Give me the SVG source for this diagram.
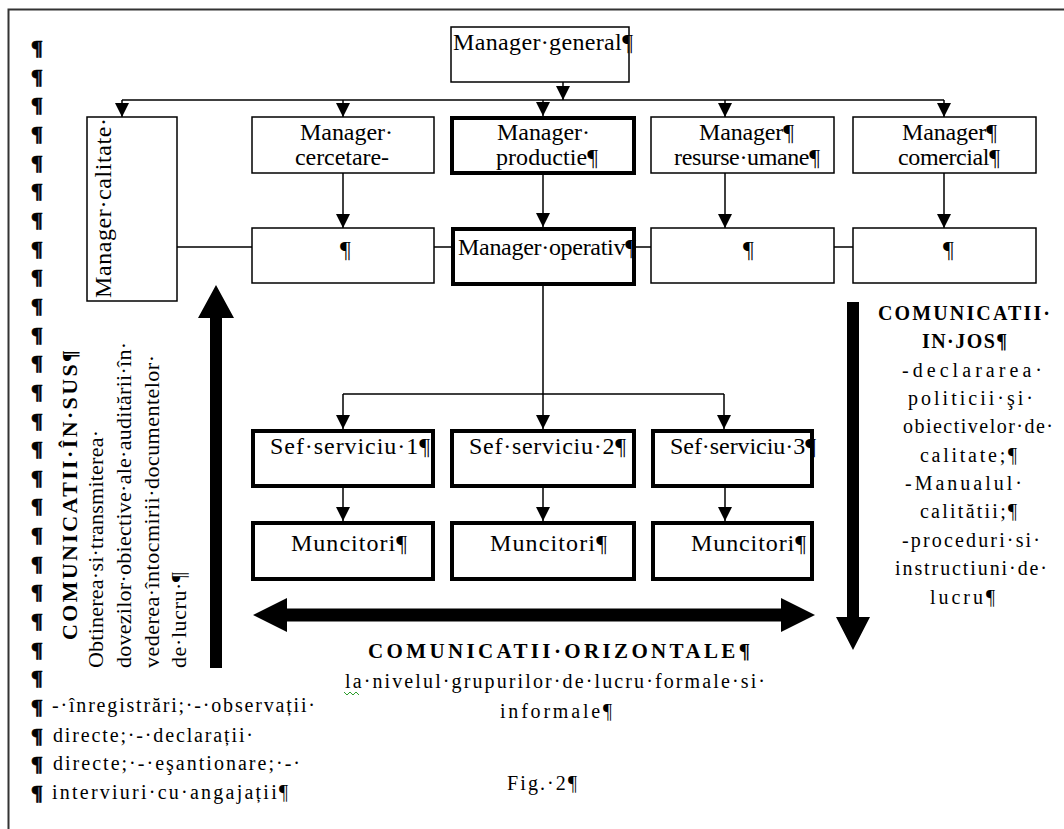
<svg xmlns="http://www.w3.org/2000/svg" width="1064" height="829" viewBox="0 0 1064 829">
<defs>
<style>
.t{font-family:"Liberation Serif","Times New Roman",serif;font-size:24px;fill:#000}
.s{font-family:"Liberation Serif","Times New Roman",serif;font-size:20px;fill:#000}
.v{font-family:"Liberation Serif","Times New Roman",serif;font-size:22px;fill:#000}
.b{font-weight:bold}
.box{fill:#fff;stroke:#000;stroke-width:1.5}
.thick{fill:#fff;stroke:#000;stroke-width:4}
.con{fill:none;stroke:#000;stroke-width:1.5}
.pil{font-family:"Liberation Serif","Times New Roman",serif;font-size:22px;font-weight:bold;fill:#000;stroke:#000;stroke-width:0.7}
.blk{fill:#000;stroke:none}
</style>
<marker id="ah" markerUnits="userSpaceOnUse" markerWidth="14" markerHeight="14" viewBox="0 0 14 14" refX="14" refY="7" orient="auto">
<path d="M0,0 L14,7 L0,14 Z" fill="#000"/>
</marker>
</defs>
<rect x="0" y="0" width="1064" height="829" fill="#fff"/>
<path d="M8.5,829 V9.5 H1064" fill="none" stroke="#333" stroke-width="2"/>

<g id="pilcrows" class="pil">
<text x="31" y="55">¶</text><text x="31" y="83.7">¶</text><text x="31" y="112.3">¶</text><text x="31" y="141">¶</text>
<text x="31" y="169.6">¶</text><text x="31" y="198.3">¶</text><text x="31" y="226.9">¶</text><text x="31" y="255.6">¶</text>
<text x="31" y="284.2">¶</text><text x="31" y="312.9">¶</text><text x="31" y="341.5">¶</text><text x="31" y="370.2">¶</text>
<text x="31" y="398.8">¶</text><text x="31" y="427.5">¶</text><text x="31" y="456.1">¶</text><text x="31" y="484.8">¶</text>
<text x="31" y="513.4">¶</text><text x="31" y="542.1">¶</text><text x="31" y="570.7">¶</text><text x="31" y="599.4">¶</text>
<text x="31" y="628">¶</text><text x="31" y="656.7">¶</text><text x="31" y="685.3">¶</text><text x="31" y="714">¶</text>
<text x="31" y="742.6">¶</text><text x="31" y="771.3">¶</text><text x="31" y="799.9">¶</text>
</g>

<g id="connectors" class="con">
<path d="M563,82 V100" marker-end="url(#ah)"/>
<path d="M122,100 H944"/>
<path d="M122,100 V117" marker-end="url(#ah)"/>
<path d="M343,100 V117" marker-end="url(#ah)"/>
<path d="M543,100 V116" marker-end="url(#ah)"/>
<path d="M725,100 V117" marker-end="url(#ah)"/>
<path d="M944,100 V117" marker-end="url(#ah)"/>
<path d="M343,173 V228" marker-end="url(#ah)"/>
<path d="M543,175 V227" marker-end="url(#ah)"/>
<path d="M725,173 V228" marker-end="url(#ah)"/>
<path d="M944,173 V228" marker-end="url(#ah)"/>
<path d="M177,247 H252 M434,247 H451 M636,247 H651 M834,247 H853"/>
<path d="M543,286 V394 M343,394 H724"/>
<path d="M343,394 V429" marker-end="url(#ah)"/>
<path d="M543,394 V429" marker-end="url(#ah)"/>
<path d="M724,394 V429" marker-end="url(#ah)"/>
<path d="M343,488 V521" marker-end="url(#ah)"/>
<path d="M543,488 V521" marker-end="url(#ah)"/>
<path d="M725,488 V521" marker-end="url(#ah)"/>
</g>

<g id="manager-general">
<rect class="box" x="451" y="27" width="178" height="55"/>
<text class="t" x="453" y="50" textLength="180" lengthAdjust="spacing">Manager·general¶</text>
</g>
<g id="manager-calitate">
<rect class="box" x="87" y="117" width="90" height="184"/>
<text class="t" transform="translate(111,298) rotate(-90)" textLength="180" lengthAdjust="spacing">Manager·calitate·</text>
</g>
<g id="manager-cercetare">
<rect class="box" x="252" y="117" width="182" height="56"/>
<text class="t" x="300" y="140" textLength="93" lengthAdjust="spacing">Manager·</text>
<text class="t" x="295" y="165" textLength="94" lengthAdjust="spacing">cercetare-</text>
</g>
<g id="manager-productie">
<rect class="thick" x="452" y="118" width="182" height="55"/>
<text class="t" x="497" y="140" textLength="93" lengthAdjust="spacing">Manager·</text>
<text class="t" x="496" y="165" textLength="102" lengthAdjust="spacing">productie¶</text>
</g>
<g id="manager-resurse-umane">
<rect class="box" x="651" y="117" width="183" height="56"/>
<text class="t" x="699" y="140" textLength="95" lengthAdjust="spacing">Manager¶</text>
<text class="t" x="674" y="165" textLength="146" lengthAdjust="spacing">resurse·umane¶</text>
</g>
<g id="manager-comercial">
<rect class="box" x="853" y="117" width="183" height="56"/>
<text class="t" x="902" y="140" textLength="95" lengthAdjust="spacing">Manager¶</text>
<text class="t" x="898" y="165" textLength="102" lengthAdjust="spacing">comercial¶</text>
</g>
<g id="sub-cercetare">
<rect class="box" x="252" y="228" width="182" height="55"/>
<text class="t" x="340" y="257">¶</text>
</g>
<g id="manager-operativ">
<rect class="thick" x="453" y="229" width="181" height="55"/>
<text class="t" x="458" y="255" textLength="178" lengthAdjust="spacing">Manager·operativ¶</text>
</g>
<g id="sub-resurse-umane">
<rect class="box" x="651" y="228" width="183" height="55"/>
<text class="t" x="743" y="257">¶</text>
</g>
<g id="sub-comercial">
<rect class="box" x="853" y="228" width="183" height="55"/>
<text class="t" x="943" y="257">¶</text>
</g>
<g id="sef-serviciu-1">
<rect class="thick" x="253" y="431" width="180" height="55"/>
<text class="t" x="270" y="454" textLength="160" lengthAdjust="spacing">Sef·serviciu·1¶</text>
</g>
<g id="sef-serviciu-2">
<rect class="thick" x="452" y="431" width="182" height="55"/>
<text class="t" x="469" y="454" textLength="157" lengthAdjust="spacing">Sef·serviciu·2¶</text>
</g>
<g id="sef-serviciu-3">
<rect class="thick" x="653" y="431" width="159" height="55"/>
<text class="t" x="670" y="454" textLength="146" lengthAdjust="spacing">Sef·serviciu·3¶</text>
</g>
<g id="muncitori-1">
<rect class="thick" x="253" y="523" width="180" height="56"/>
<text class="t" x="291" y="551" textLength="116" lengthAdjust="spacing">Muncitori¶</text>
</g>
<g id="muncitori-2">
<rect class="thick" x="452" y="523" width="182" height="56"/>
<text class="t" x="490" y="551" textLength="117" lengthAdjust="spacing">Muncitori¶</text>
</g>
<g id="muncitori-3">
<rect class="thick" x="653" y="523" width="159" height="56"/>
<text class="t" x="691" y="551" textLength="115" lengthAdjust="spacing">Muncitori¶</text>
</g>

<g id="flow-arrows" class="blk">
<polygon points="210,668 210,318 198,318 216,285 234,318 222,318 222,668"/>
<polygon points="847,302 859,302 859,617 870,617 853,650 836,617 847,617"/>
<polygon points="253,615 287,598 287,608.5 781,608.5 781,598 815,615 781,632 781,621.5 287,621.5 287,632"/>
</g>

<g id="comunicatii-in-sus">
<text class="v b" transform="translate(77,640) rotate(-90)" textLength="290" lengthAdjust="spacing">COMUNICATII·ÎN·SUS¶</text>
<text class="v" transform="translate(103,668) rotate(-90)" textLength="238" lengthAdjust="spacing">Obtinerea·si·transmiterea·</text>
<text class="v" transform="translate(131,668) rotate(-90)" textLength="326" lengthAdjust="spacing">dovezilor·obiective·ale·auditării·în·</text>
<text class="v" transform="translate(159,668) rotate(-90)" textLength="313" lengthAdjust="spacing">vederea·întocmirii·documentelor·</text>
<text class="v" transform="translate(186,668) rotate(-90)" textLength="96" lengthAdjust="spacing">de·lucru·¶</text>
</g>

<g id="metode-in-sus" class="s">
<text x="52" y="712" textLength="263" lengthAdjust="spacing">-·înregistrări;·-·observații·</text>
<text x="53" y="742" textLength="200" lengthAdjust="spacing">directe;·-·declarații·</text>
<text x="53" y="770" textLength="247" lengthAdjust="spacing">directe;·-·eşantionare;·-·</text>
<text x="52" y="799" textLength="236" lengthAdjust="spacing">interviuri·cu·angajații¶</text>
</g>

<g id="comunicatii-in-jos" class="s">
<text class="b" x="878" y="320" textLength="172" lengthAdjust="spacing">COMUNICATII·</text>
<text class="b" x="922" y="348" textLength="85" lengthAdjust="spacing">IN·JOS¶</text>
<text x="902" y="377" textLength="140" lengthAdjust="spacing">-declararea·</text>
<text x="908" y="405" textLength="125" lengthAdjust="spacing">politicii·şi·</text>
<text x="903" y="433" textLength="150" lengthAdjust="spacing">obiectivelor·de·</text>
<text x="920" y="462" textLength="97" lengthAdjust="spacing">calitate;¶</text>
<text x="905" y="490" textLength="117" lengthAdjust="spacing">-Manualul·</text>
<text x="920" y="518" textLength="97" lengthAdjust="spacing">calitătii;¶</text>
<text x="902" y="547" textLength="138" lengthAdjust="spacing">-proceduri·si·</text>
<text x="895" y="575" textLength="152" lengthAdjust="spacing">instructiuni·de·</text>
<text x="930" y="604" textLength="65" lengthAdjust="spacing">lucru¶</text>
</g>

<g id="comunicatii-orizontale">
<text class="s b" x="368" y="658" textLength="382" lengthAdjust="spacing" style="font-size:21px">COMUNICATII·ORIZONTALE¶</text>
<text class="s" x="345" y="688" textLength="420" lengthAdjust="spacing">la·nivelul·grupurilor·de·lucru·formale·si·</text>
<polyline points="344,692 347,695 350,692 353,695 356,692 359,695" fill="none" stroke="#2e9e2e" stroke-width="1"/>
<text class="s" x="500" y="718" textLength="112" lengthAdjust="spacing">informale¶</text>
</g>

<g id="caption">
<text class="s" x="507" y="790" textLength="70" lengthAdjust="spacing">Fig.·2¶</text>
</g>
</svg>
